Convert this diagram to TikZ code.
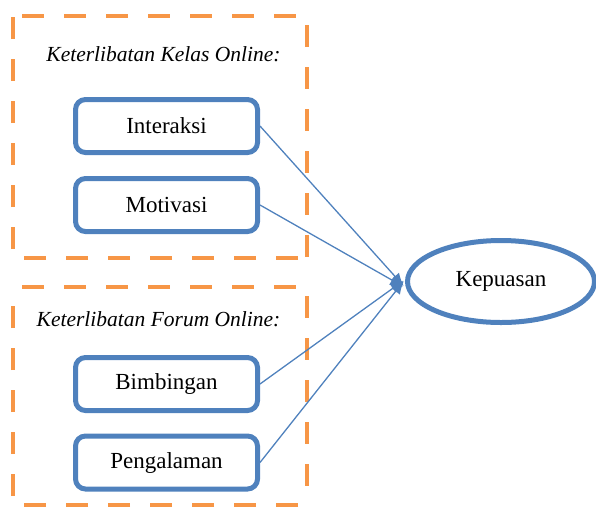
\documentclass[tikz,border=0pt]{standalone}
\usepackage{fontspec}
\setmainfont{Liberation Serif}
\usetikzlibrary{shapes.geometric,arrows.meta}
\definecolor{frameblue}{HTML}{4F81BD}
\definecolor{grouporange}{HTML}{F79646}
\begin{document}
\begin{tikzpicture}[x=1pt,y=-1pt,
  groupframe/.style={draw=grouporange,line width=4.5pt,dash pattern=on 22pt off 20pt,dash phase=33pt},
  grouptitle/.style={font=\fontsize{21.5}{25}\selectfont\itshape,inner sep=0pt},
  itembox/.style={draw=frameblue,line width=5pt,rounded corners=10pt,
    minimum width=182pt,minimum height=53pt,inner sep=0pt,
    font=\fontsize{23}{27}\selectfont},
  outcome/.style={ellipse,draw=frameblue,line width=5pt,
    minimum width=187pt,minimum height=82pt,inner sep=0pt,
    font=\fontsize{23}{27}\selectfont},
  link/.style={draw=frameblue,line width=1.3pt,-{Latex[length=13pt,width=11pt]},shorten >=2pt}]
\useasboundingbox (0,0) rectangle (596,507);

% group frames, each side dashed on its own so the corners stay open
\foreach \xa/\ya/\xb/\yb in {13/16/307/258, 13/287/307/505}{
  \draw[groupframe] (\xa,\ya) -- (\xb,\ya);
  \draw[groupframe] (\xb,\ya) -- (\xb,\yb);
  \draw[groupframe] (\xb,\yb) -- (\xa,\yb);
  \draw[groupframe] (\xa,\yb) -- (\xa,\ya);
}

\node[grouptitle] (t1) at (163.5,54) {Keterlibatan Kelas Online:};
\node[grouptitle] (t2) at (158.5,319) {Keterlibatan Forum Online:};

% items
\node[itembox] (interaksi) at (166.5,126) {Interaksi};
\node[itembox] (motivasi) at (166.5,205) {Motivasi};
\node[itembox] (bimbingan) at (166.5,384) {Bimbingan};
\node[itembox] (pengalaman) at (166.5,462.5) {Pengalaman};

% outcome
\node[outcome] (kepuasan) at (501,281.5) {Kepuasan};

% connectors
\draw[link] (interaksi.east) -- ([yshift=-6pt]kepuasan.west);
\draw[link] (motivasi.east) -- ([yshift=-6pt]kepuasan.west);
\draw[link] (bimbingan.east) -- ([yshift=2pt]kepuasan.west);
\draw[link] (pengalaman.east) -- ([yshift=2pt]kepuasan.west);
\end{tikzpicture}
\end{document}
